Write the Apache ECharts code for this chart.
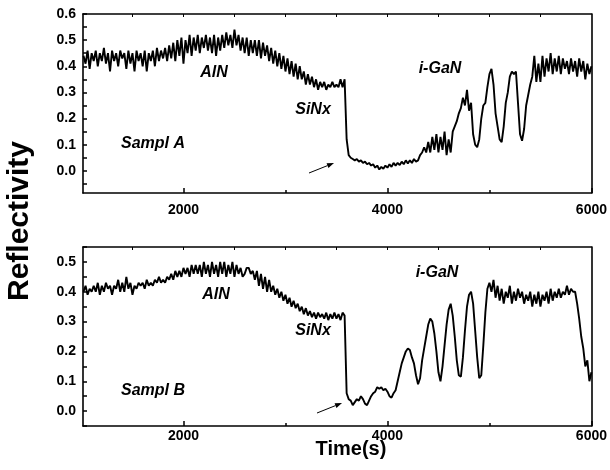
<!DOCTYPE html>
<html>
<head>
<meta charset="utf-8">
<script src="https://cdn.jsdelivr.net/npm/echarts@6/dist/echarts.min.js"></script>
<style>
html,body{margin:0;padding:0;background:#fff;}
#chart{width:610px;height:470px;}
</style>
</head>
<body>
<div id="chart"></div>
<script>
// ---- Data ----
// time grid: samples every 20 s starting at 1020 s
var timeStart = 1020;
var timeStep = 20;

// Sample A reflectivity
var sampleA = [
  // 1020-1800
  0.44,0.41,0.46,0.39,0.45,0.42,0.46,0.40,0.45,0.42,
  0.47,0.41,0.45,0.38,0.46,0.42,0.45,0.40,0.46,0.43,
  0.45,0.39,0.46,0.41,0.45,0.38,0.46,0.42,0.45,0.40,
  0.46,0.38,0.45,0.42,0.46,0.40,0.47,0.42,0.46,0.43,
  // 1820-2100
  0.47,0.42,0.48,0.43,0.49,0.42,0.50,0.44,0.51,0.41,0.50,0.45,0.52,0.44,0.51,
  // 2120-2700
  0.46,0.52,0.45,0.51,0.47,0.52,0.46,0.51,0.45,0.52,
  0.44,0.51,0.46,0.52,0.47,0.53,0.48,0.52,0.47,0.54,
  0.48,0.52,0.46,0.51,0.45,0.51,0.44,0.50,0.45,0.50,
  // 2720-3100
  0.44,0.50,0.43,0.49,0.44,0.48,0.42,0.47,0.41,0.46,
  0.40,0.45,0.39,0.44,0.38,0.43,0.37,0.42,0.36,0.41,
  // 3120-3340
  0.35,0.40,0.35,0.38,0.33,0.37,0.33,0.36,0.32,0.35,0.31,0.34,
  // 3360-3580
  0.32,0.34,0.31,0.33,0.32,0.34,0.32,0.33,0.32,0.35,0.32,0.35,
  // 3600-4000
  0.12,0.06,0.05,0.045,0.04,0.045,0.035,0.04,0.03,0.035,
  0.025,0.03,0.02,0.025,0.012,0.02,0.005,0.015,0.008,0.02,0.012,
  // 4020-4340
  0.025,0.015,0.03,0.02,0.03,0.022,0.035,0.025,0.04,0.028,0.04,0.03,0.045,0.035,0.04,0.06,0.07,
  // 4360-4640
  0.09,0.07,0.11,0.07,0.13,0.08,0.14,0.07,0.13,0.08,0.15,0.06,0.12,0.07,0.15,
  // 4660-5460
  0.17,0.19,0.22,0.24,0.28,0.25,0.31,0.23,0.26,0.14,
  0.10,0.09,0.12,0.20,0.25,0.26,0.32,0.37,0.39,0.33,
  0.22,0.17,0.12,0.11,0.17,0.26,0.30,0.36,0.38,0.37,
  0.38,0.26,0.14,0.115,0.16,0.25,0.29,0.33,0.36,0.44,
  0.34,
  // 5480-6000
  0.41,0.34,0.44,0.36,0.43,0.38,0.45,0.37,0.43,0.38,
  0.44,0.37,0.43,0.39,0.42,0.37,0.43,0.38,0.42,0.36,
  0.43,0.38,0.42,0.35,0.41,0.37,0.40
];

// Sample B reflectivity
var sampleB = [
  // 1020-1800
  0.40,0.42,0.39,0.41,0.40,0.42,0.40,0.43,0.39,0.42,
  0.40,0.43,0.41,0.42,0.39,0.42,0.41,0.44,0.40,0.43,
  0.40,0.45,0.41,0.43,0.39,0.42,0.41,0.43,0.42,0.43,
  0.41,0.44,0.42,0.43,0.42,0.44,0.43,0.45,0.43,0.44,
  // 1820-2100
  0.43,0.45,0.44,0.46,0.44,0.47,0.45,0.47,0.45,0.48,0.46,0.48,0.45,0.49,0.46,
  // 2120-2700
  0.49,0.46,0.49,0.45,0.50,0.46,0.49,0.45,0.50,0.46,
  0.49,0.45,0.50,0.46,0.50,0.45,0.49,0.46,0.50,0.45,
  0.49,0.46,0.48,0.45,0.46,0.48,0.48,0.46,0.47,0.44,
  // 2720-3100
  0.47,0.42,0.46,0.41,0.45,0.40,0.44,0.40,0.42,0.39,
  0.41,0.38,0.40,0.37,0.39,0.36,0.38,0.35,0.37,0.345,
  // 3120-3340
  0.36,0.335,0.35,0.325,0.345,0.32,0.335,0.315,0.33,0.31,0.33,0.315,
  // 3360-3580
  0.325,0.31,0.33,0.305,0.325,0.31,0.33,0.31,0.325,0.305,0.33,0.32,
  // 3600-4000
  0.06,0.04,0.035,0.02,0.03,0.04,0.035,0.05,0.04,0.025,
  0.02,0.035,0.05,0.06,0.065,0.08,0.075,0.08,0.07,0.075,0.065,
  // 4020-4340
  0.05,0.045,0.06,0.07,0.10,0.13,0.16,0.18,0.20,0.21,0.205,0.18,0.16,0.12,0.09,0.11,0.17,
  // 4360-4640
  0.21,0.25,0.29,0.31,0.30,0.26,0.20,0.13,0.10,0.15,0.22,0.29,0.34,0.36,0.32,
  // 4660-5460
  0.25,0.17,0.12,0.115,0.18,0.27,0.35,0.39,0.40,0.36,
  0.27,0.18,0.11,0.12,0.22,0.33,0.41,0.43,0.40,0.44,
  0.38,0.42,0.37,0.41,0.36,0.40,0.38,0.42,0.36,0.40,
  0.37,0.41,0.38,0.40,0.36,0.39,0.37,0.40,0.35,0.39,
  0.36,
  // 5480-6000
  0.40,0.35,0.39,0.37,0.40,0.36,0.41,0.37,0.40,0.38,
  0.41,0.38,0.40,0.39,0.42,0.39,0.41,0.40,0.40,0.36,
  0.31,0.25,0.21,0.15,0.17,0.10,0.13
];

var xMin = 1015, xMax = 6000;
var xTickLabels = [2000, 4000, 6000];
var xMinorTicks = [3000, 5000];
var xTopTicks = [1500, 2000, 2500, 3000, 3500, 4000, 4500, 5000, 5500];
var yLabelsA = [0, 0.1, 0.2, 0.3, 0.4, 0.5, 0.6];
var yTicksA = [-0.05, 0, 0.05, 0.1, 0.15, 0.2, 0.25, 0.3, 0.35, 0.4, 0.45, 0.5, 0.55, 0.6];
var yLabelsB = [0, 0.1, 0.2, 0.3, 0.4, 0.5];
var yTicksB = [-0.05, 0, 0.05, 0.1, 0.15, 0.2, 0.25, 0.3, 0.35, 0.4, 0.45, 0.5, 0.55];
var yRangeA = [-0.085, 0.6];
var yRangeB = [-0.05, 0.55];

function toPairs(vals) {
  var out = [];
  for (var i = 0; i < vals.length; i++) out.push([timeStart + i * timeStep, vals[i]]);
  return out;
}

var FONT = '"Liberation Sans", Arial, Helvetica, sans-serif';
var lineStyle = { color: '#000', width: 1.6 };

function xMain(grid, margin) {
  return {
    type: 'value', gridIndex: grid, position: 'bottom', min: xMin, max: xMax,
    axisLine: { show: true, onZero: false, lineStyle: lineStyle },
    axisTick: { show: true, inside: true, length: 5, customValues: xTickLabels, lineStyle: { color: '#000', width: 1.5 } },
    axisLabel: { show: true, customValues: xTickLabels, margin: margin, color: '#000', fontFamily: FONT, fontWeight: 'bold', fontSize: 14,
      formatter: function (v) { return String(Math.round(v)); } },
    splitLine: { show: false }
  };
}
function xMinor(grid) {
  return {
    type: 'value', gridIndex: grid, position: 'bottom', min: xMin, max: xMax,
    axisLine: { show: false, onZero: false },
    axisTick: { show: true, inside: true, length: 3, customValues: xMinorTicks, lineStyle: { color: '#000', width: 1.5 } },
    axisLabel: { show: false }, splitLine: { show: false }
  };
}
function xTop(grid) {
  return {
    type: 'value', gridIndex: grid, position: 'top', min: xMin, max: xMax,
    axisLine: { show: true, onZero: false, lineStyle: lineStyle },
    axisTick: { show: true, inside: true, length: 3, customValues: xTopTicks, lineStyle: { color: '#000', width: 1 } },
    axisLabel: { show: false }, splitLine: { show: false }
  };
}
function yLeft(grid, range, labels, ticks) {
  return {
    type: 'value', gridIndex: grid, position: 'left', min: range[0], max: range[1],
    axisLine: { show: true, onZero: false, lineStyle: lineStyle },
    axisTick: { show: true, inside: true, length: 4, customValues: ticks, lineStyle: { color: '#000', width: 1.5 } },
    axisLabel: { show: true, customValues: labels, margin: 7, color: '#000', fontFamily: FONT, fontWeight: 'bold', fontSize: 14,
      formatter: function (v) { return Number(v).toFixed(1); } },
    splitLine: { show: false }
  };
}
function yRight(grid, range) {
  return {
    type: 'value', gridIndex: grid, position: 'right', min: range[0], max: range[1],
    axisLine: { show: true, onZero: false, lineStyle: lineStyle },
    axisTick: { show: false }, axisLabel: { show: false }, splitLine: { show: false }
  };
}

function label(text, x, y) {
  return { type: 'text', x: x, y: y, style: { text: text, font: 'italic bold 16px ' + FONT, fill: '#000', align: 'center', verticalAlign: 'middle' } };
}
function arrow(x1, y1, x2, y2) {
  var dx = x2 - x1, dy = y2 - y1, L = Math.sqrt(dx * dx + dy * dy);
  var ux = dx / L, uy = dy / L, px = -uy, py = ux;
  var bx = x2 - 7 * ux, by = y2 - 7 * uy;
  return [
    { type: 'line', shape: { x1: x1, y1: y1, x2: bx, y2: by }, style: { stroke: '#000', lineWidth: 1 } },
    { type: 'polygon', shape: { points: [[x2, y2], [bx + 2.5 * px, by + 2.5 * py], [bx - 2.5 * px, by - 2.5 * py]] }, style: { fill: '#000' } }
  ];
}

var graphics = [
  label('AlN', 214, 73), label('SiNx', 313, 110), label('i-GaN', 440, 69), label('Sampl A', 153, 144),
  label('AlN', 216, 295), label('SiNx', 313, 331), label('i-GaN', 437, 273), label('Sampl B', 153, 391),
  { type: 'text', x: 20, y: 221, rotation: Math.PI / 2, style: { text: 'Reflectivity', font: 'bold 30px ' + FONT, fill: '#000', align: 'center', verticalAlign: 'middle' } },
  { type: 'text', x: 351, y: 449, style: { text: 'Time(s)', font: 'bold 20px ' + FONT, fill: '#000', align: 'center', verticalAlign: 'middle' } }
].concat(arrow(309, 173, 334, 163)).concat(arrow(317, 413, 342, 403));

var chart = echarts.init(document.getElementById('chart'), null, { renderer: 'canvas' });
chart.setOption({
  animation: false,
  backgroundColor: '#fff',
  grid: [
    { left: 83, top: 14, width: 511, height: 179 },
    { left: 83, top: 247, width: 511, height: 179 }
  ],
  xAxis: [xMain(0, 10), xMinor(0), xTop(0), xMain(1, 3), xMinor(1), xTop(1)],
  yAxis: [yLeft(0, yRangeA, yLabelsA, yTicksA), yRight(0, yRangeA), yLeft(1, yRangeB, yLabelsB, yTicksB), yRight(1, yRangeB)],
  series: [
    { type: 'line', xAxisIndex: 0, yAxisIndex: 0, data: toPairs(sampleA), showSymbol: false, symbol: 'none', lineStyle: { color: '#000', width: 1.9 } },
    { type: 'line', xAxisIndex: 3, yAxisIndex: 2, data: toPairs(sampleB), showSymbol: false, symbol: 'none', lineStyle: { color: '#000', width: 1.9 } }
  ],
  graphic: graphics
});
</script>
</body>
</html>
